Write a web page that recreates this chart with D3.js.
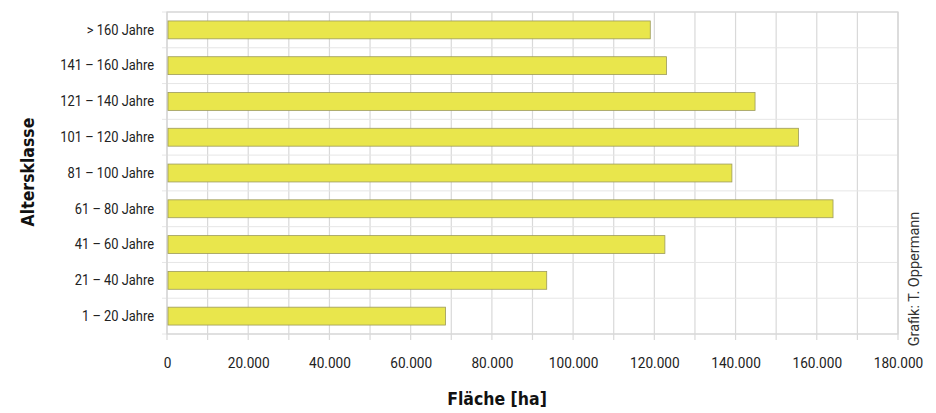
<!DOCTYPE html>
<html>
<head>
<meta charset="utf-8">
<script src="https://cdn.jsdelivr.net/npm/d3@7"></script>
<style>
body{margin:0;background:#fff;}
svg{display:block;}
</style>
</head>
<body>
<svg id="chart" width="936" height="413"></svg>
<script>
const categories = ["> 160 Jahre", "141 – 160 Jahre", "121 – 140 Jahre", "101 – 120 Jahre", "81 – 100 Jahre", "61 – 80 Jahre", "41 – 60 Jahre", "21 – 40 Jahre", "1 – 20 Jahre"];
const values = [119000, 123000, 144800, 155500, 139100, 164000, 122600, 93500, 68600];
const tickValues = [0, 20000, 40000, 60000, 80000, 100000, 120000, 140000, 160000, 180000];
const tickLabels = ["0", "20.000", "40.000", "60.000", "80.000", "100.000", "120.000", "140.000", "160.000", "180.000"];
const xTitle = "Fläche [ha]";
const yTitle = "Altersklasse";
const credit = "Grafik: T. Oppermann";

(function () {
const svg = d3.select("#chart");
const pl = 167, pr = 898, pt = 12, pb = 334;
const font = "'Roboto', 'DejaVu Sans Condensed', sans-serif";

const x = d3.scaleLinear().domain([0, 180000]).range([pl, pr]);
const y = d3.scaleBand().domain(categories).range([pt, pb]).paddingInner(0.5).paddingOuter(0.25);

// minor vertical grid every 10000
const minor = d3.range(0, 180001, 10000);
svg.append("g").selectAll("line").data(minor).join("line")
  .attr("x1", d => x(d)).attr("x2", d => x(d))
  .attr("y1", pt).attr("y2", pb + 6)
  .attr("stroke", "#d9d9d9").attr("stroke-width", 1.2);

// horizontal band lines
const step = (pb - pt) / categories.length;
svg.append("g").selectAll("line").data(d3.range(categories.length + 1)).join("line")
  .attr("x1", pl - 5).attr("x2", pr)
  .attr("y1", i => pt + i * step).attr("y2", i => pt + i * step)
  .attr("stroke", "#e6e6e6").attr("stroke-width", 1);

// frame
svg.append("rect").attr("x", pl).attr("y", pt).attr("width", pr - pl).attr("height", pb - pt)
  .attr("fill", "none").attr("stroke", "#d4d4d4").attr("stroke-width", 1.2);

// bars
svg.append("g").selectAll("rect").data(values).join("rect")
  .attr("x", x(0) + 1)
  .attr("y", (d, i) => y(categories[i]))
  .attr("width", d => x(d) - x(0) - 1)
  .attr("height", y.bandwidth())
  .attr("fill", "#e9e64c")
  .attr("stroke", "#9c9a5c").attr("stroke-width", 0.8);

// x axis
const xAxis = d3.axisBottom(x).tickValues(tickValues).tickFormat((d, i) => tickLabels[i]).tickSize(0).tickPadding(0);
const gx = svg.append("g").attr("transform", `translate(0,${pb + 29})`).call(xAxis);
gx.select(".domain").remove();
gx.selectAll("text").attr("font-family", font).attr("font-size", 15.5).attr("fill", "#222")
  .attr("dy", "0.35em").attr("y", 0).attr("transform", "scale(0.88,1)");

// y axis labels
const yAxis = d3.axisLeft(y).tickSize(0).tickPadding(0);
const gy = svg.append("g").attr("transform", `translate(${pl - 13},0)`).call(yAxis);
gy.select(".domain").remove();
gy.selectAll("text").attr("font-family", font).attr("font-size", 15).attr("fill", "#222")
  .attr("transform", "scale(0.86,1)");

// titles
svg.append("text").attr("x", 497).attr("y", 405).attr("text-anchor", "middle")
  .attr("font-family", "'DejaVu Sans Condensed', sans-serif").attr("font-weight", "bold").attr("font-size", 17.5).attr("fill", "#111")
  .text(xTitle);
svg.append("text").attr("transform", "translate(34,172) rotate(-90)").attr("text-anchor", "middle")
  .attr("font-family", "'DejaVu Sans Condensed', sans-serif").attr("font-weight", "bold").attr("font-size", 17.5).attr("fill", "#111")
  .text(yTitle);
svg.append("text").attr("transform", "translate(919,279) rotate(-90)").attr("text-anchor", "middle")
  .attr("font-family", font).attr("font-size", 14.5).attr("fill", "#333")
  .text(credit);
})();
</script>
</body>
</html>
